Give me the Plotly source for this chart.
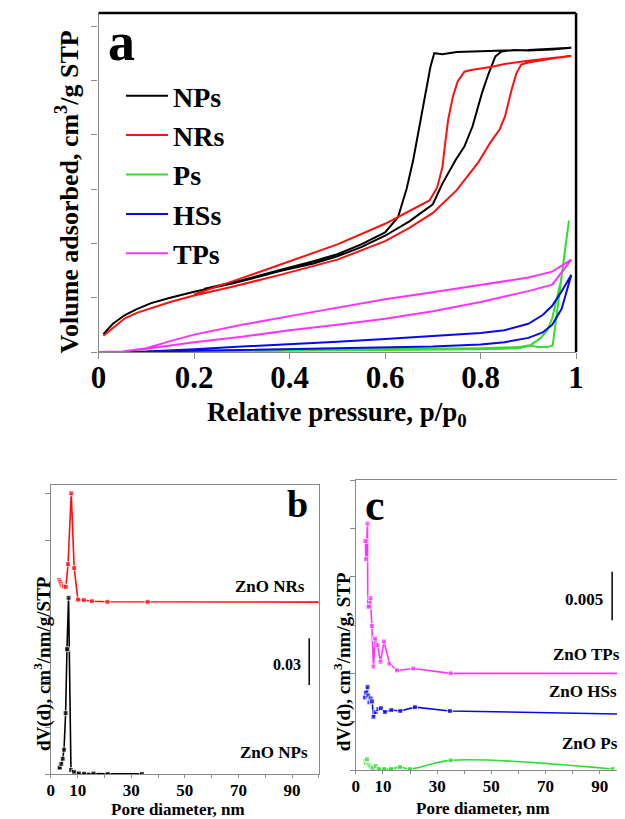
import plotly.graph_objects as go

W, H = 625, 819
FONT = "'Liberation Serif', 'Times New Roman', Times, 'DejaVu Serif', serif"

# ---------------- Panel a: isotherms (adsorption then desorption, one loop per sample)
NPs_p = [0.01, 0.03, 0.055, 0.08, 0.11, 0.15, 0.2, 0.28, 0.38, 0.45, 0.5, 0.55, 0.6, 0.65, 0.7, 0.72, 0.748, 0.766, 0.783, 0.803, 0.817, 0.831, 0.844, 0.87, 0.9, 0.95, 0.99,
         0.95, 0.9, 0.85, 0.8, 0.75, 0.72, 0.703, 0.695, 0.681, 0.667, 0.659, 0.645, 0.627, 0.6, 0.55, 0.5, 0.45, 0.38, 0.3, 0.22]
NPs_v = [16.5, 26, 34, 39.5, 45, 50, 55.5, 63, 74.5, 81.5, 88, 96.5, 107, 120, 136, 155, 177, 189, 207.5, 238.5, 256.5, 272, 276.5, 278, 277.5, 278.5, 280,
         279, 278, 277.5, 277, 276, 274, 275, 262.5, 229, 198, 177, 150, 124, 110, 99, 90, 83.5, 75.5, 66, 58]

NRs_p = [0.01, 0.03, 0.055, 0.08, 0.11, 0.15, 0.2, 0.28, 0.38, 0.5, 0.6, 0.65, 0.7, 0.75, 0.796, 0.82, 0.84, 0.851, 0.865, 0.875, 0.885, 0.9, 0.95, 0.99,
         0.95, 0.9, 0.85, 0.824, 0.8, 0.78, 0.766, 0.752, 0.742, 0.732, 0.725, 0.72, 0.709, 0.693, 0.652, 0.6, 0.5, 0.38, 0.3, 0.2]
NRs_v = [15, 22.5, 31, 36, 40.5, 46, 52, 60, 71, 85, 102, 114, 128, 149, 175, 192.5, 205, 216.5, 241.5, 256.5, 264.5, 266.5, 270, 272.5,
         270.5, 268, 265, 262.5, 261, 259.5, 258, 249, 235, 213.5, 189, 170, 151.5, 139.5, 130, 118, 99, 80, 68, 53]

Ps_p = [0.01, 0.1, 0.2, 0.4, 0.6, 0.8, 0.88, 0.905, 0.92, 0.94, 0.951, 0.985,
        0.975, 0.968, 0.96, 0.95, 0.94, 0.925, 0.905, 0.88, 0.8, 0.6, 0.4, 0.2, 0.08]
Ps_v = [0, 0.3, 0.5, 1, 1.5, 2.5, 3.5, 6, 4.5, 4.5, 6, 121,
        85, 65, 50, 31, 20, 12.5, 6.5, 4.5, 3.5, 2.5, 2, 1.2, 0.5]

HSs_p = [0.05, 0.2, 0.4, 0.6, 0.7, 0.8, 0.85, 0.9, 0.93, 0.95, 0.97, 0.99,
         0.97, 0.95, 0.93, 0.9, 0.85, 0.8, 0.7, 0.6, 0.5, 0.4, 0.3, 0.2, 0.1]
HSs_v = [0, 1, 2.5, 4, 5, 7, 9, 13, 18, 25, 40, 71,
         56, 42.5, 34, 26, 20, 17.5, 14.5, 12, 9.5, 7.5, 5, 2.5, 0.5]

TPs_p = [0.0, 0.05, 0.1, 0.2, 0.3, 0.4, 0.5, 0.6, 0.7, 0.8, 0.9, 0.95, 0.99,
         0.95, 0.9, 0.8, 0.7, 0.6, 0.5, 0.4, 0.3, 0.2, 0.15, 0.1, 0.05]
TPs_v = [0, 0.5, 3, 9, 14, 20, 25, 30.5, 37.5, 46, 56, 62, 85,
         74, 68.5, 61.5, 55, 48.5, 41, 33, 25, 16, 10, 3.5, 0.5]

A_XTICKS = [0, 0.2, 0.4, 0.6, 0.8, 1]
A_XTICKTEXT = ["0", "0.2", "0.4", "0.6", "0.8", "1"]
A_YTICKS = [0, 50, 100, 150, 200, 250, 300]

# ---------------- Panel b: pore size distributions (NRs offset above NPs)
bNPs_d = [3.0, 3.4, 3.9, 4.4, 4.9, 5.5, 6.0, 6.6, 7.5, 8.6, 10.4, 12.4, 15.9, 21.2, 34.0]
bNPs_v = [0.0040, 0.0042, 0.0065, 0.0098, 0.0156, 0.039, 0.080, 0.113, 0.0025, 0.0014, 0.0004, 0.0002, 0.0003, 0.0001, 0.0001]
bNRs_d = [3.0, 3.4, 3.8, 4.3, 4.9, 5.6, 6.4, 7.6, 8.7, 10.1, 12.3, 15.3, 21.1, 36.1, 100]
bNRs_v = [0.1245, 0.1232, 0.1220, 0.1208, 0.1202, 0.1200, 0.1345, 0.180, 0.132, 0.1118, 0.1115, 0.1108, 0.1104, 0.1104, 0.1102]
B_XLABELS = [0, 10, 30, 50, 70, 90]
B_XMINOR = [20, 40, 60, 80, 100]
B_YTICKS = [0, 0.03, 0.06, 0.09, 0.12, 0.15, 0.18]
B_SCALE = 0.03

# ---------------- Panel c
cTPs_d = [3.5, 3.7, 4.3, 4.4, 4.9, 5.4, 5.9, 6.5, 7.1, 8.0, 9.1, 10.4, 12.4, 15.2, 21.2, 35.0, 96.4]
cTPs_v = [0.0237, 0.0218, 0.0255, 0.0169, 0.0169, 0.0178, 0.0149, 0.0107, 0.0136, 0.0129, 0.0112, 0.0133, 0.0110, 0.0103, 0.0105, 0.0100, 0.0100]
cHSs_d = [3.3, 3.7, 4.3, 4.6, 5.0, 5.5, 6.0, 6.5, 7.3, 8.3, 9.3, 10.7, 13.1, 16.4, 21.8, 34.7, 96.4]
cHSs_v = [0.0075, 0.0080, 0.0086, 0.0077, 0.0070, 0.0074, 0.0071, 0.0055, 0.0060, 0.0063, 0.0064, 0.0060, 0.0062, 0.0061, 0.0065, 0.0061, 0.0058]
cPs_d = [3.4, 3.7, 4.1, 4.4, 4.8, 5.3, 5.8, 6.4, 7.3, 8.5, 10.5, 13.0, 16.3, 20.0, 35.0, 94.8]
cPs_v = [0.0009, 0.0007, 0.0011, 0.0006, 0.0005, 0.0004, 0.0003, 0.0002, 0.0004, 0.0001, 0.0001, 0.0001, 0.0003, 0.0001, 0.0010, 0.0001]
C_XLABELS = [0, 10, 30, 50, 70, 90]
C_XMINOR = [20, 40, 60, 80]
C_YTICKS = [0, 0.005, 0.01, 0.015, 0.02, 0.025, 0.03]
C_SCALE = 0.005

BLACK, RED, GREEN, BLUE, MAG = "#000000", "#ff1010", "#33dd33", "#0a0ae6", "#ff33ff"
GRAY = "#8a8a8a"


def px(xp):
    return xp / W


def py(yp):
    return 1 - yp / H


fig = go.Figure()

for name, xs, ys, col in [("NPs", NPs_p, NPs_v, BLACK), ("NRs", NRs_p, NRs_v, RED),
                          ("Ps", Ps_p, Ps_v, GREEN), ("HSs", HSs_p, HSs_v, BLUE),
                          ("TPs", TPs_p, TPs_v, MAG)]:
    fig.add_trace(go.Scatter(x=xs, y=ys, mode="lines", name=name,
                             line=dict(color=col, width=2), xaxis="x", yaxis="y"))


def psd(xs, ys, col, ax, shape="linear", lastmarker=True):
    sizes = [5] * len(xs)
    if not lastmarker:
        sizes[-1] = 0
    fig.add_trace(go.Scatter(x=xs, y=ys, mode="lines+markers", showlegend=False,
                             line=dict(color=col, width=1.6, shape=shape),
                             marker=dict(symbol="square", size=sizes, color=col),
                             xaxis="x" + ax, yaxis="y" + ax))


psd(bNPs_d, bNPs_v, BLACK, "2")
psd(bNRs_d, bNRs_v, RED, "2", lastmarker=False)
psd(cTPs_d, cTPs_v, MAG, "3", lastmarker=False)
psd(cHSs_d, cHSs_v, BLUE, "3", lastmarker=False)
psd(cPs_d, cPs_v, GREEN, "3", shape="spline")


def axis(**kw):
    d = dict(showgrid=False, zeroline=False, showline=True, linecolor=GRAY, linewidth=1.3,
             ticks="outside", tickcolor=GRAY, ticklen=6, tickwidth=1.3)
    d.update(kw)
    return d


small_tick = dict(size=17, family=FONT, weight="bold")

fig.update_layout(
    width=W, height=H, margin=dict(l=0, r=0, t=0, b=0),
    plot_bgcolor="white", paper_bgcolor="white",
    font=dict(family=FONT, color="black"),
    xaxis=axis(domain=[px(93), px(583)], range=[0, 1], tickvals=A_XTICKS, ticktext=A_XTICKTEXT,
               tickfont=dict(size=31, family=FONT, weight="bold"), anchor="y", ticklabelstandoff=-8),
    yaxis=axis(domain=[py(352), py(13)], range=[0, 312], tickvals=A_YTICKS, showticklabels=False,
               anchor="x"),
    xaxis2=axis(domain=[px(44), px(319)], range=[0, 100], tickvals=B_XLABELS,
                tickfont=small_tick, anchor="y2", mirror=True, ticklen=3, ticklabelstandoff=-3,
                minor=dict(tickvals=B_XMINOR, ticks="outside", ticklen=3, tickcolor=GRAY, tickwidth=1.3)),
    yaxis2=axis(domain=[py(774), py(485)], range=[0, 0.1853], tickvals=B_YTICKS, showticklabels=False,
                anchor="x2", mirror=True, ticklen=5),
    xaxis3=axis(domain=[px(357), 1.0], range=[0, 96.4], tickvals=C_XLABELS,
                tickfont=small_tick, anchor="y3", mirror=True, ticklen=3, ticklabelstandoff=-3,
                minor=dict(tickvals=C_XMINOR, ticks="outside", ticklen=3, tickcolor=GRAY, tickwidth=1.3)),
    yaxis3=axis(domain=[py(770), py(480)], range=[0, 0.030], tickvals=C_YTICKS, showticklabels=False,
                anchor="x3", ticklen=5),
    legend=dict(x=px(116), y=py(71), xanchor="left", yanchor="top", bgcolor="rgba(0,0,0,0)",
                font=dict(size=28, family=FONT, weight="bold"), itemwidth=42, tracegroupgap=0),
)

# black frame on top/right of panel a
fig.add_shape(type="line", xref="x domain", yref="y domain", x0=0, x1=1, y0=1, y1=1,
              line=dict(color="black", width=2.5))
fig.add_shape(type="line", xref="x domain", yref="y domain", x0=1, x1=1, y0=0, y1=1,
              line=dict(color="black", width=2.5))

# scale bars
fig.add_shape(type="line", xref="x2", yref="y2", x0=96.4, x1=96.4, y0=0.057, y1=0.057 + B_SCALE,
              line=dict(color="black", width=1.5))
fig.add_shape(type="line", xref="x3", yref="y3", x0=94.6, x1=94.6, y0=0.0155, y1=0.0155 + C_SCALE,
              line=dict(color="black", width=1.5))


def ann(text, x, y, size, angle=0, xanchor="center"):
    fig.add_annotation(text=text, x=px(x), y=py(y), xref="paper", yref="paper", showarrow=False,
                       xanchor=xanchor, yanchor="middle", textangle=angle,
                       font=dict(family=FONT, size=size, color="black", weight="bold"))


ann("a", 116, 42, 54)
ann("Volume adsorbed, cm<sup>3</sup>/g STP", 61, 192, 26, angle=-90)
ann("Relative pressure, p/p<sub>0</sub>", 338, 414, 27)

ann("b", 297, 504, 38)
ann("dV(d), cm<sup>3</sup>/nm/g/STP", 35, 664, 19, angle=-90)
ann("Pore diameter, nm", 174, 809, 17)
ann("ZnO NRs", 269, 586, 17)
ann("ZnO NPs", 273, 752, 17)
ann(str(B_SCALE), 286, 664, 16)

ann("c", 377, 505, 44)
ann("dV(d), cm<sup>3</sup>/nm/g, STP", 343, 662, 19, angle=-90)
ann("Pore diameter, nm", 487, 808, 17)
ann(str(C_SCALE), 591, 599, 17)
ann("ZnO TPs", 557, 654, 17, xanchor="left")
ann("ZnO HSs", 553, 691, 17, xanchor="left")
ann("ZnO Ps", 567, 743, 17, xanchor="left")

fig.write_html("out.html")
